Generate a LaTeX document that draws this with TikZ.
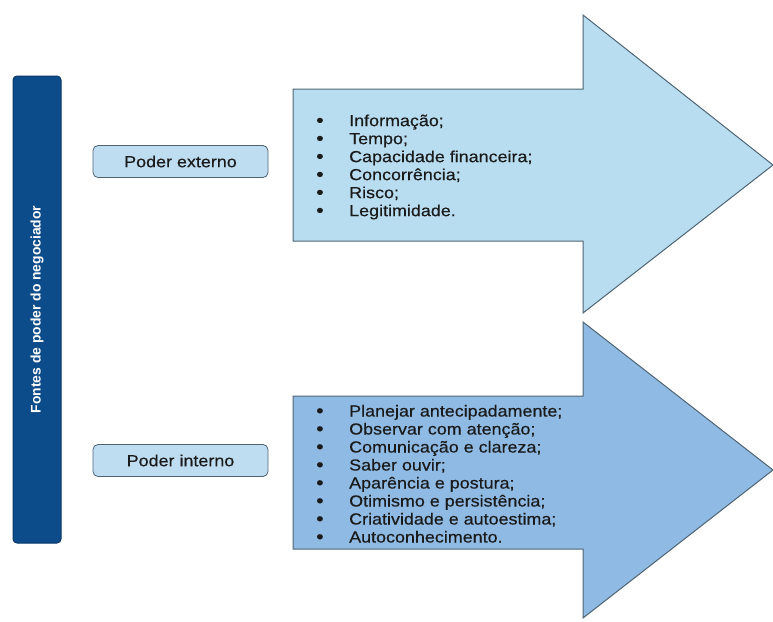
\documentclass[tikz,border=0pt]{standalone}
\usepackage{fontspec}
\setmainfont{Liberation Sans}
\newfontfamily\wideface[FakeStretch=1.12,FakeBold=0.35]{Liberation Sans}
\usetikzlibrary{positioning}
\definecolor{navyfill}{HTML}{0D4C8A}
\definecolor{navyline}{HTML}{0A3766}
\definecolor{boxblue}{HTML}{BFDDF1}
\definecolor{edgegray}{HTML}{4F6473}
\definecolor{arrowlight}{HTML}{B9DDF0}
\definecolor{arrowmid}{HTML}{8FBAE3}
\definecolor{inkdark}{HTML}{1A1A1A}

\begin{document}
\begin{tikzpicture}[
    x=1pt, y=-1pt,
    sidebar/.style={draw=navyline, fill=navyfill, rounded corners=4pt, line width=1pt, text=white, font=\bfseries\fontsize{13.9}{16}\selectfont},
    power/.style={draw=edgegray, fill=boxblue, rounded corners=5pt, minimum width=175pt, minimum height=32pt, line width=0.8pt, text=inkdark, font=\wideface\fontsize{16}{18}\selectfont},
    bigarrow/.style={draw=edgegray, line width=1pt, line join=miter},
    itemlist/.style={anchor=west, align=left, inner sep=0pt, text=inkdark, font=\wideface\fontsize{16}{18}\selectfont}
]
\useasboundingbox (0,0) rectangle (773,621);

% coluna lateral
\node[sidebar, rotate=90, minimum width=467pt, minimum height=48pt] (fontes) at (37,309.5) {Fontes de poder do negociador};

% setas
\draw[bigarrow, fill=arrowlight] (293,89) -- (583,89) -- (583,15) -- (773,165) -- (583,313) -- (583,241) -- (293,241) -- cycle;
\draw[bigarrow, fill=arrowmid] (293,396) -- (583,396) -- (583,322) -- (773,470) -- (583,618) -- (583,549) -- (293,549) -- cycle;

% caixas
\node[power] (externo) at (180.5,161.5) {Poder externo};
\node[power] (interno) at (180.5,460.5) {Poder interno};

\newcommand{\bul}{\makebox[33pt][l]{\raisebox{-0.6pt}{\fontsize{19}{18}\selectfont\textbullet}}}
\node[itemlist] (extlist) at (316,167) {%
  \bul Informação;\\
  \bul Tempo;\\
  \bul Capacidade financeira;\\
  \bul Concorrência;\\
  \bul Risco;\\
  \bul Legitimidade.};
\node[itemlist] (intlist) at (316,474) {%
  \bul Planejar antecipadamente;\\
  \bul Observar com atenção;\\
  \bul Comunicação e clareza;\\
  \bul Saber ouvir;\\
  \bul Aparência e postura;\\
  \bul Otimismo e persistência;\\
  \bul Criatividade e autoestima;\\
  \bul Autoconhecimento.};
\end{tikzpicture}
\end{document}
